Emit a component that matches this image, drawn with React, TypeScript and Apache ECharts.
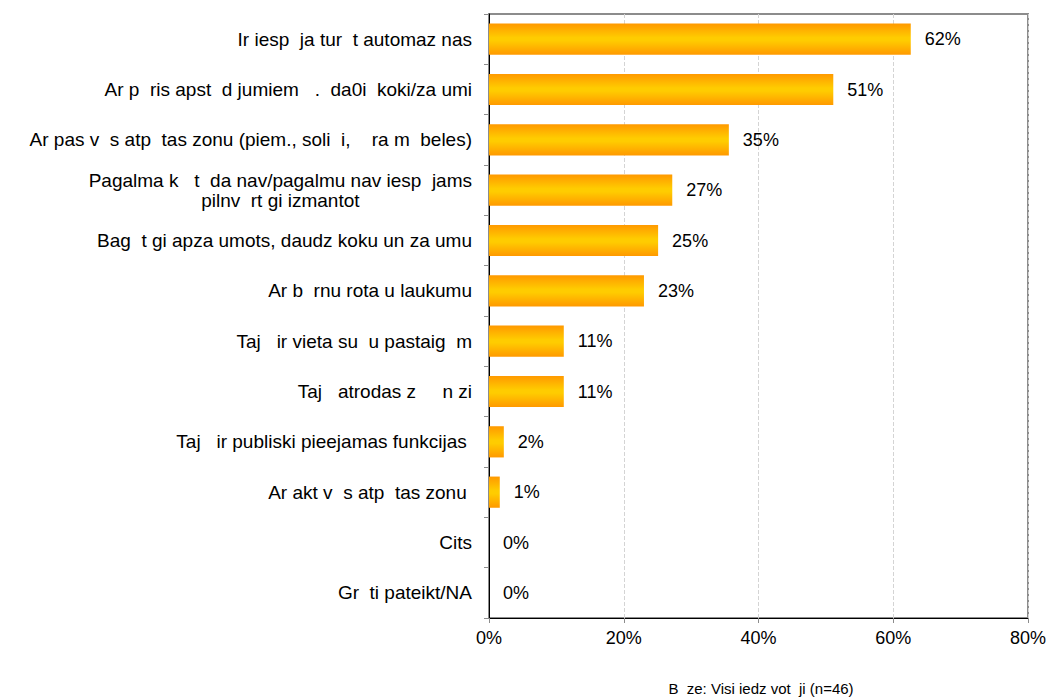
import React, { useEffect, useRef } from "react";
import * as echarts from "echarts";

const categories: string[] = [
  "Ir iesp  ja tur  t automaz nas",
  "Ar p  ris apst  d jumiem   .  da0i  koki/za umi",
  "Ar pas v  s atp  tas zonu (piem., soli  i,    ra m  beles)",
  "Pagalma k   t  da nav/pagalmu nav iesp  jams\npilnv  rt gi izmantot",
  "Bag  t gi apza umots, daudz koku un za umu",
  "Ar b  rnu rota u laukumu",
  "Taj   ir vieta su  u pastaig  m",
  "Taj   atrodas z     n zi",
  "Taj   ir publiski pieejamas funkcijas ",
  "Ar akt v  s atp  tas zonu ",
  "Cits",
  "Gr  ti pateikt/NA",
];

const values: number[] = [62.6, 51.1, 35.6, 27.2, 25.1, 23.0, 11.1, 11.1, 2.2, 1.6, 0, 0];
const valueLabels: string[] = ["62%", "51%", "35%", "27%", "25%", "23%", "11%", "11%", "2%", "1%", "0%", "0%"];
const xTicks: number[] = [0, 20, 40, 60, 80];
const footnote = "B  ze: Visi iedz vot  ji (n=46)";

const FONT = "'Liberation Sans', Arial, sans-serif";

export default function App() {
  const ref = useRef<HTMLDivElement>(null);
  useEffect(() => {
    if (!ref.current) return;
    const chart = echarts.init(ref.current, undefined, { renderer: "svg" });
    const barColor = new echarts.graphic.LinearGradient(0, 0, 0, 1, [
      { offset: 0, color: "#FF9900" },
      { offset: 0.45, color: "#FFCC00" },
      { offset: 0.55, color: "#FFCC00" },
      { offset: 1, color: "#FF9900" },
    ]);
    chart.setOption({
      animation: false,
      backgroundColor: "#ffffff",
      textStyle: { fontFamily: FONT },
      grid: {
        left: 489,
        right: 22,
        top: 14,
        bottom: 82,
        show: true,
        borderColor: "#8c8c8c",
        borderWidth: 2,
        containLabel: false,
      },
      xAxis: {
        type: "value",
        min: xTicks[0],
        max: xTicks[xTicks.length - 1],
        interval: 20,
        axisLine: { show: true, lineStyle: { color: "#000000", width: 1 } },
        axisTick: { show: true, length: 5, lineStyle: { color: "#8c8c8c" } },
        axisLabel: {
          formatter: (v: number) => `${v}%`,
          fontSize: 18,
          color: "#000",
          fontFamily: FONT,
          margin: 11,
        },
        splitLine: { show: true, lineStyle: { color: "#d4d4d4", type: "dashed", width: 1 } },
      },
      yAxis: {
        type: "category",
        data: categories,
        inverse: true,
        axisLine: { show: true, lineStyle: { color: "#000000", width: 1 } },
        axisTick: { show: true, length: 5, lineStyle: { color: "#8c8c8c" } },
        axisLabel: {
          margin: 17,
          fontSize: 19,
          color: "#000",
          fontFamily: FONT,
          lineHeight: 20,
          formatter: (v: string) =>
            v
              .split("\n")
              .map((l) => `{c|${l}}`)
              .join("\n"),
          rich: {
            c: { align: "center", fontSize: 19, fontFamily: FONT, color: "#000", lineHeight: 20 },
          },
        },
      },
      series: [
        {
          type: "bar",
          data: values,
          barCategoryGap: "38%",
          itemStyle: { color: barColor },
          label: {
            show: true,
            position: "right",
            distance: 14,
            fontSize: 18,
            color: "#000",
            fontFamily: FONT,
            formatter: (p: any) => valueLabels[p.dataIndex],
          },
        },
      ],
      graphic: [
        {
          type: "text",
          x: 761,
          y: 688,
          style: {
            text: footnote,
            fontSize: 15,
            fill: "#000",
            fontFamily: FONT,
            align: "center",
            verticalAlign: "middle",
          },
        },
      ],
    });
    return () => chart.dispose();
  }, []);
  return <div ref={ref} style={{ width: 1050, height: 700, position: "absolute", left: 0, top: 0 }} />;
}
